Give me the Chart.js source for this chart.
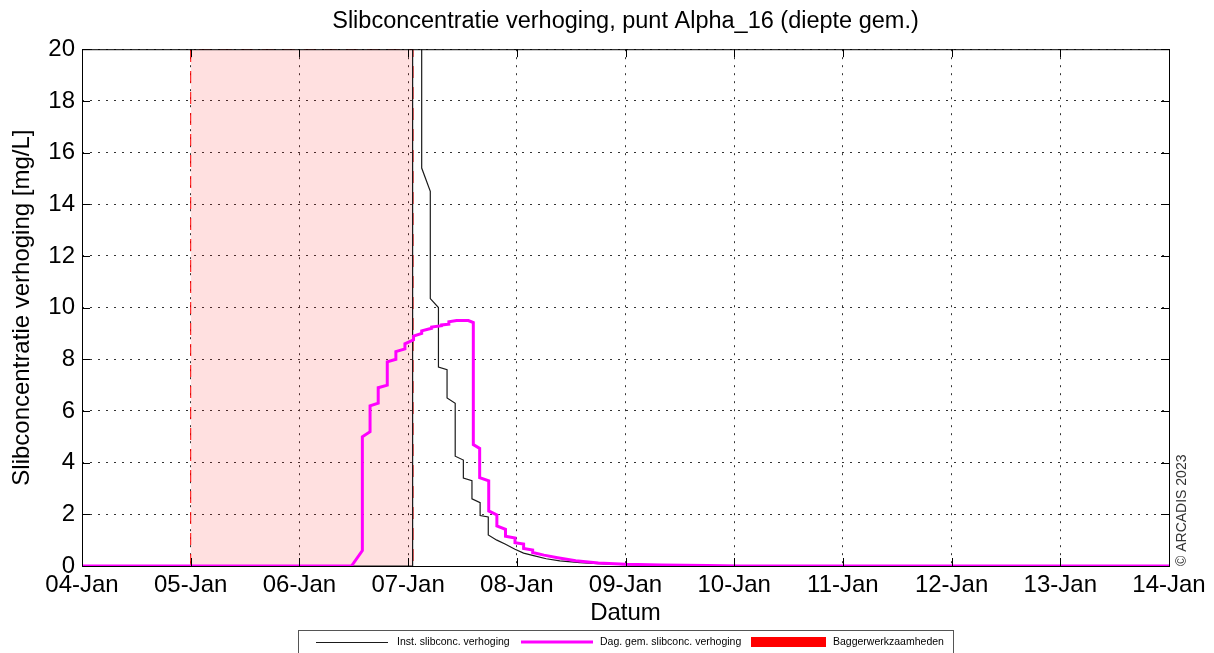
<!DOCTYPE html>
<html>
<head>
<meta charset="utf-8">
<title>Slibconcentratie verhoging</title>
<script src="https://cdn.jsdelivr.net/npm/chart.js@4/dist/chart.umd.min.js"></script>
<style>
  html, body { margin: 0; padding: 0; background: #fff; }
  #wrap { width: 1214px; height: 653px; }
</style>
</head>
<body>
<div id="wrap"><canvas id="slibChart"></canvas></div>
<script>
// uren vanaf 04-Jan 00:00
const dayLabels = ['04-Jan', '05-Jan', '06-Jan', '07-Jan', '08-Jan', '09-Jan', '10-Jan', '11-Jan', '12-Jan', '13-Jan', '14-Jan']
const yTicks = [0, 2, 4, 6, 8, 10, 12, 14, 16, 18, 20]

// instantane slibconcentratie verhoging [mg/L]
const instHours = [0, 73.0, 73.0, 75.0, 75.0, 76.9, 76.9, 78.7, 78.7, 80.6, 80.6, 82.4, 82.4, 84.2, 84.2, 86.1, 86.1, 87.9, 87.9, 89.7, 89.7, 91.6, 93.4, 95.6, 97.5, 99.7, 102.5, 105.5, 110, 114, 120, 128, 135, 240]
const instValues = [0, 0, 31.5, 24.0, 15.4, 14.5, 10.35, 10.0, 7.7, 7.6, 6.5, 6.3, 4.25, 4.1, 3.4, 3.3, 2.6, 2.45, 1.95, 1.9, 1.2, 1.0, 0.85, 0.65, 0.5, 0.4, 0.28, 0.2, 0.13, 0.09, 0.05, 0.02, 0, 0]

// daggemiddelde slibconcentratie verhoging [mg/L]
const dagHours = [0, 59.5, 61.9, 61.9, 63.6, 63.6, 65.4, 65.4, 67.4, 67.4, 69.3, 69.3, 71.3, 71.3, 73.2, 73.2, 75.0, 75.0, 77.2, 77.2, 79.4, 79.4, 81.0, 81.0, 82.7, 85.3, 86.4, 86.4, 87.8, 87.8, 89.8, 89.8, 91.6, 91.6, 93.5, 93.5, 95.6, 95.6, 97.5, 97.5, 99.5, 99.5, 102, 105, 109, 114, 120, 128, 138, 145, 240]
const dagValues = [0, 0, 0.6, 5.0, 5.2, 6.2, 6.3, 6.9, 7.0, 7.9, 8.0, 8.3, 8.4, 8.6, 8.75, 8.9, 9.0, 9.1, 9.2, 9.25, 9.3, 9.33, 9.36, 9.45, 9.5, 9.5, 9.42, 4.7, 4.55, 3.42, 3.3, 2.13, 1.98, 1.55, 1.42, 1.15, 1.08, 0.9, 0.85, 0.68, 0.62, 0.52, 0.42, 0.32, 0.2, 0.12, 0.07, 0.04, 0.02, 0, 0]

// periode baggerwerkzaamheden [uur]
const dredgeStart = 24
const dredgeEnd = 73.1

const FONT = "'Liberation Sans', Arial, sans-serif"

const toPoints = (xs, ys) => xs.map((h, i) => ({x: h, y: ys[i]}))

// kader, tickjes naar binnen, legenda en copyright
const framePlugin = {
    id: 'frame',
    afterDraw(chart) {
        const {ctx, chartArea: a, scales} = chart
        ctx.save()
        ctx.strokeStyle = '#000'
        ctx.lineWidth = 1
        ctx.setLineDash([])
        ctx.strokeRect(a.left + 0.5, a.top + 0.5, a.width, a.height)

        const tl = 8
        ctx.beginPath()
        dayLabels.forEach((d, i) => {
            const px = Math.round(scales.x.getPixelForValue(i * 24)) + 0.5
            ctx.moveTo(px, a.bottom); ctx.lineTo(px, a.bottom - tl)
            ctx.moveTo(px, a.top); ctx.lineTo(px, a.top + tl)
        })
        yTicks.forEach(v => {
            const py = Math.round(scales.y.getPixelForValue(v)) + 0.5
            ctx.moveTo(a.left, py); ctx.lineTo(a.left + tl, py)
            ctx.moveTo(a.right, py); ctx.lineTo(a.right - tl, py)
        })
        ctx.stroke()

        // copyright
        ctx.save()
        ctx.translate(a.right + 13, a.bottom)
        ctx.rotate(-Math.PI / 2)
        ctx.fillStyle = '#333'
        ctx.font = '14px ' + FONT
        ctx.textBaseline = 'middle'
        ctx.textAlign = 'left'
        ctx.fillText('\u00A9 ARCADIS 2023', 0, 0)
        ctx.restore()

        // legenda
        const ds = chart.data.datasets
        const ly = 642
        ctx.strokeStyle = '#555'
        ctx.lineWidth = 1
        ctx.strokeRect(298.5, 630.5, 655, 30)
        ctx.font = '10.5px ' + FONT
        ctx.fillStyle = '#000'
        ctx.textBaseline = 'middle'
        ctx.textAlign = 'left'

        ctx.beginPath()
        ctx.strokeStyle = ds[1].borderColor
        ctx.lineWidth = 1
        ctx.moveTo(316, ly + 0.5); ctx.lineTo(388, ly + 0.5)
        ctx.stroke()
        ctx.fillText(ds[1].label, 397, ly)

        ctx.beginPath()
        ctx.strokeStyle = ds[0].borderColor
        ctx.lineWidth = 3
        ctx.moveTo(521, ly); ctx.lineTo(593, ly)
        ctx.stroke()
        ctx.fillText(ds[0].label, 600, ly)

        ctx.fillStyle = '#ff0000'
        ctx.fillRect(751, ly - 5, 75, 10)
        ctx.fillStyle = '#000'
        ctx.fillText(ds[2].label, 833, ly)
        ctx.restore()
    }
}

const ctx1 = document.getElementById('slibChart')

new Chart(ctx1, {
    type: 'line',
    data: {
        datasets: [{
            label: 'Dag. gem. slibconc. verhoging',
            data: toPoints(dagHours, dagValues),
            borderColor: '#ff00ff',
            borderWidth: 3,
            pointRadius: 0,
            fill: false,
            order: 0,
        }, {
            label: 'Inst. slibconc. verhoging',
            data: toPoints(instHours, instValues),
            borderColor: '#1a1a1a',
            borderWidth: 1.2,
            pointRadius: 0,
            fill: false,
            order: 1,
        }, {
            label: 'Baggerwerkzaamheden',
            data: toPoints([dredgeStart, dredgeStart, dredgeEnd, dredgeEnd], [0, 20, 20, 0]),
            borderColor: '#ff0000',
            borderWidth: 1,
            borderDash: [12, 9],
            backgroundColor: 'rgba(255, 0, 0, 0.12)',
            pointRadius: 0,
            fill: 'origin',
            order: 2,
        }]
    },
    options: {
        responsive: true,
        maintainAspectRatio: false,
        animation: false,
        layout: {
            padding: {left: 0, right: 45, top: 0, bottom: 25}
        },
        scales: {
            x: {
                type: 'linear',
                min: 0,
                max: 240,
                afterFit: s => { s.height = 62 },
                afterBuildTicks: s => { s.ticks = dayLabels.map((d, i) => ({value: i * 24})) },
                grid: {
                    color: '#333',
                    lineWidth: 1,
                    drawTicks: false,
                },
                border: {display: false, dash: [2, 6]},
                ticks: {
                    color: '#000',
                    padding: 5,
                    maxRotation: 0,
                    autoSkip: false,
                    font: {size: 24, family: FONT},
                    callback: v => dayLabels[v / 24],
                },
                title: {
                    display: true,
                    text: 'Datum',
                    color: '#000',
                    font: {size: 24, family: FONT},
                    padding: {top: 0, bottom: 0},
                },
            },
            y: {
                min: 0,
                max: 20,
                afterFit: s => { s.width = 82 },
                afterBuildTicks: s => { s.ticks = yTicks.map(v => ({value: v})) },
                grid: {
                    color: '#333',
                    lineWidth: 1,
                    drawTicks: false,
                },
                border: {display: false, dash: [2, 6]},
                ticks: {
                    color: '#000',
                    padding: 7,
                    font: {size: 24, family: FONT},
                },
                title: {
                    display: true,
                    text: 'Slibconcentratie verhoging [mg/L]',
                    color: '#000',
                    font: {size: 24, family: FONT},
                    padding: {top: 8, bottom: 0},
                },
            },
        },
        plugins: {
            title: {
                display: true,
                fullSize: false,
                text: 'Slibconcentratie verhoging, punt Alpha_16 (diepte gem.)',
                color: '#000',
                font: {size: 23.5, weight: 'normal', family: FONT},
                padding: {top: 7, bottom: 14},
            },
            legend: {
                display: false
            },
            tooltip: {
                enabled: false
            }
        },
    },
    plugins: [framePlugin]
});
</script>
</body>
</html>
